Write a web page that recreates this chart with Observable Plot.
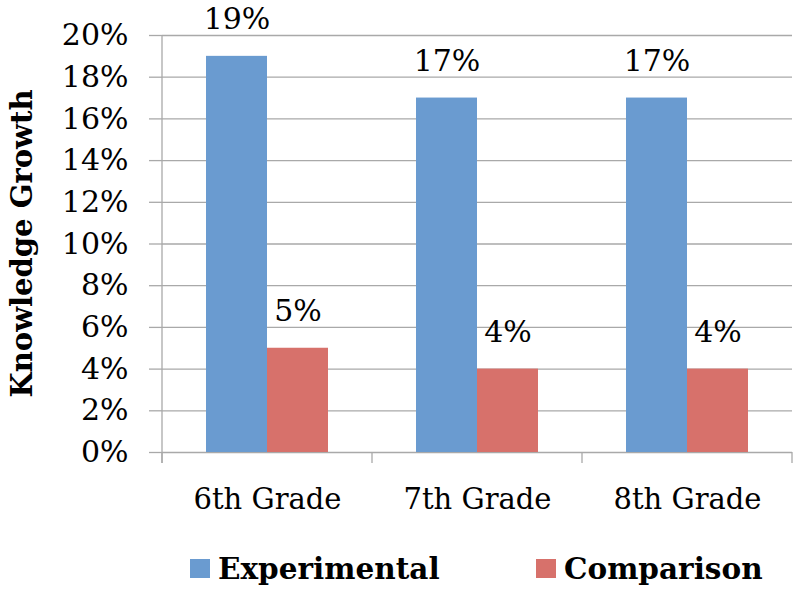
<!DOCTYPE html>
<html><head><meta charset="utf-8">
<script src="https://cdn.jsdelivr.net/npm/d3@7"></script>
<script src="https://cdn.jsdelivr.net/npm/@observablehq/plot@0.6"></script>
<style>
body{margin:0;background:#fff;font-family:"DejaVu Serif",serif;}
#chart svg{display:block;}
#legend{position:relative;height:61px;width:800px;}
.item{position:absolute;top:13px;display:flex;align-items:center;height:40px;font-weight:bold;font-size:29.5px;color:#000;}
.sw{width:20px;height:19px;margin-right:8px;}
</style></head><body>
<div id="chart"></div>
<div id="legend"></div>
<script>
const grades = ["6th Grade", "7th Grade", "8th Grade"];
const series = ["Experimental", "Comparison"];
const experimental = [0.19, 0.17, 0.17];
const comparison = [0.05, 0.04, 0.04];
const yTicks = [0, 0.02, 0.04, 0.06, 0.08, 0.10, 0.12, 0.14, 0.16, 0.18, 0.20];
const colors = ["#6a9bd0", "#d7716b"];
const yTitle = "Knowledge Growth";

const data = grades.flatMap((g, i) => [
  {grade: g, series: series[0], value: experimental[i]},
  {grade: g, series: series[1], value: comparison[i]}
]);
const pct = d3.format(".0%");
const gridColor = "#a9a9a9";

const chart = Plot.plot({
  width: 800, height: 535,
  marginLeft: 162, marginRight: 8, marginTop: 35, marginBottom: 83,
  style: {fontFamily: "DejaVu Serif", fontSize: "28px", color: "#000", background: "#fff", overflow: "visible"},
  fx: {domain: grades, padding: 0, label: null, axis: null},
  x: {domain: series, paddingInner: 0, paddingOuter: 0.72, axis: null},
  y: {domain: [0, 0.2], label: null, axis: null},
  color: {domain: series, range: colors},
  marks: [
    Plot.gridY(yTicks, {stroke: gridColor, strokeOpacity: 1, strokeWidth: 1.3}),
    Plot.axisY({ticks: yTicks, tickFormat: pct, tickSize: 13, tickPadding: 21, stroke: gridColor, strokeOpacity: 1, strokeWidth: 1.3, fill: "#000", fontSize: 30, label: null}),
    Plot.axisFx({anchor: "bottom", tickSize: 0, tickPadding: 36, fill: "#000", fontSize: 29, label: null}),
    Plot.barY(data, {fx: "grade", x: "series", y: "value", fill: "series"}),
    Plot.text(data, {fx: "grade", x: "series", y: "value", text: d => pct(d.value), dy: -37, fill: "#000", fontSize: 30})
  ]
});
document.getElementById("chart").appendChild(chart);

// axis line, category boundary ticks and rotated title, placed from the plot's scales
const svg = d3.select(chart);
const fxS = chart.scale("fx");
const yS = chart.scale("y");
const x0 = fxS.apply(grades[0]);
const bounds = grades.map(g => fxS.apply(g)).concat([fxS.apply(grades[grades.length - 1]) + fxS.bandwidth]);
const yTop = yS.apply(0.2), yBot = yS.apply(0);
const g = svg.append("g").attr("stroke", gridColor).attr("stroke-width", 1.3);
g.append("line").attr("x1", x0).attr("x2", x0).attr("y1", yTop).attr("y2", yBot + 11);
bounds.forEach(b => g.append("line").attr("x1", b).attr("x2", b).attr("y1", yBot).attr("y2", yBot + 11));
svg.append("text")
  .attr("transform", `translate(22,${(yTop + yBot) / 2}) rotate(-90)`)
  .attr("text-anchor", "middle").attr("dominant-baseline", "central")
  .attr("font-weight", "bold").attr("font-size", 29).attr("fill", "#000")
  .text(yTitle);

// legend
const legend = d3.select("#legend");
const lefts = [190, 536];
series.forEach((s, i) => {
  const it = legend.append("div").attr("class", "item").style("left", lefts[i] + "px");
  it.append("div").attr("class", "sw").style("background", colors[i]);
  it.append("span").text(s);
});
</script>
</body></html>
